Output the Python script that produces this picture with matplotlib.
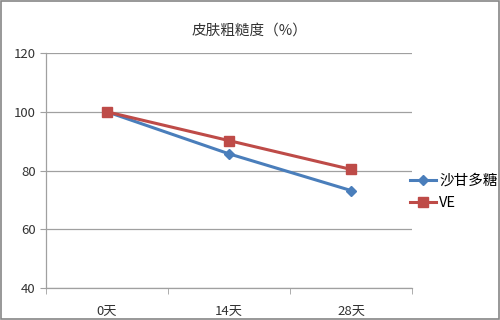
import matplotlib.pyplot as plt
from matplotlib.patches import Rectangle
import numpy as np

plt.rcParams['font.family'] = ['Noto Sans CJK SC', 'DejaVu Sans']

categories = ["0天", "14天", "28天"]
sgdt = [100, 85.7, 73.2]
ve = [100, 90.2, 80.4]
yticks = [40, 60, 80, 100, 120]

BLUE = "#4A7EBB"
RED = "#BE4B48"
GRID = "#A0A0A0"

fig = plt.figure(figsize=(5, 3.2), dpi=100)
ax = fig.add_axes([0.092, 0.1, 0.732, 0.734])

x = np.arange(len(categories))
ax.plot(x, sgdt, color=BLUE, lw=2.2, marker="D", ms=5, label="沙甘多糖", zorder=3)
ax.plot(x, ve, color=RED, lw=2.2, marker="s", ms=7, label="VE", zorder=4)

ax.set_xlim(-0.5, len(categories) - 0.5)
ax.set_ylim(40, 120)
ax.set_yticks(yticks)
ax.set_xticks(x)
ax.set_xticklabels(categories)
ax.set_xticks(np.arange(len(categories) + 1) - 0.5, minor=True)
ax.tick_params(axis="x", which="major", length=0, pad=12, labelsize=9.5, colors="#333333")
ax.tick_params(axis="x", which="minor", length=4, color=GRID)
ax.tick_params(axis="y", length=4, color=GRID, labelsize=9.5, labelcolor="#333333")
ax.grid(axis="y", color=GRID, lw=0.9)
ax.set_axisbelow(True)
for s in ["top", "right"]:
    ax.spines[s].set_visible(False)
for s in ["left", "bottom"]:
    ax.spines[s].set_color(GRID)
    ax.spines[s].set_linewidth(0.9)

fig.text(0.5, 0.905, "皮肤粗糙度（%）", ha="center", va="center", fontsize=10.5, color="#333333")

ax.legend(loc="center left", bbox_to_anchor=(0.82, 0.40), bbox_transform=fig.transFigure,
          frameon=False, borderpad=0, borderaxespad=0,
          fontsize=10.5, handlelength=1.8, labelspacing=0.6, handletextpad=0.2)

fig.patches.append(Rectangle((0.002, 0.003), 0.995, 0.993, transform=fig.transFigure,
                             fill=False, edgecolor="#868686", lw=1.2))

fig.savefig("out.png", dpi=100)
